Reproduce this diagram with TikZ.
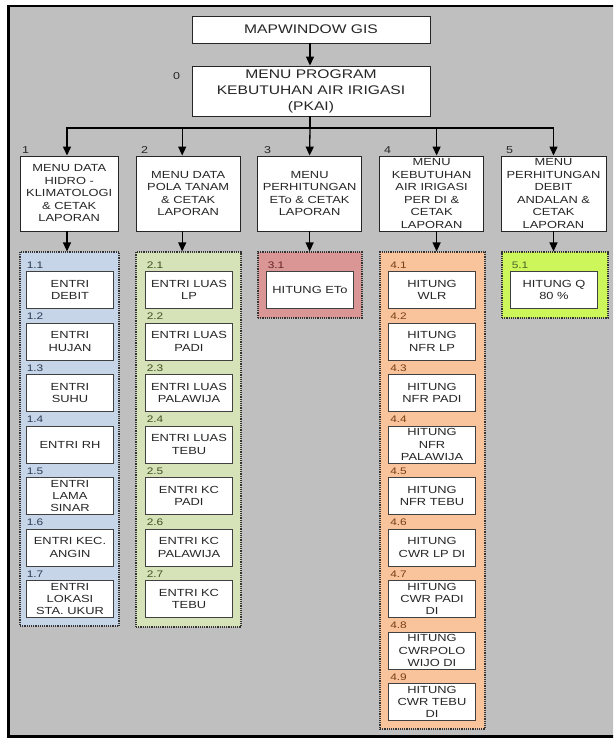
\documentclass[tikz,border=0pt]{standalone}
\usepackage{fontspec}
\setmainfont{Liberation Sans}[FakeStretch=1.25]
\usetikzlibrary{arrows.meta}
\definecolor{bggray}{HTML}{BFBFBF}
\definecolor{gblue}{HTML}{C6D6E8}
\definecolor{ggreen}{HTML}{D6E3B8}
\definecolor{gred}{HTML}{D99694}
\definecolor{gorange}{HTML}{F9C49C}
\definecolor{glime}{HTML}{CCF65A}
\definecolor{lblue}{HTML}{2B3A55}
\definecolor{lgreen}{HTML}{3F4F1F}
\definecolor{lred}{HTML}{632523}
\definecolor{lorange}{HTML}{7A3E12}
\definecolor{llime}{HTML}{4F6228}
\definecolor{txt}{HTML}{262626}
\tikzset{
  topbox/.style={draw=black!85, fill=white, line width=0.9pt, minimum width=238pt,
    inner sep=0pt, align=center, text=txt, font=\fontsize{12.5}{16}\selectfont},
  menubox/.style={draw=black!85, fill=white, line width=0.9pt, minimum height=75pt,
    inner sep=0pt, align=center, text=txt, font=\fontsize{10.3}{12.5}\selectfont},
  subbox/.style={draw=black!75, fill=white, line width=0.9pt, minimum width=87pt,
    minimum height=37pt, inner sep=0pt, align=center, text=txt,
    font=\fontsize{10.3}{12.3}\selectfont},
  group/.style={draw=black!80, line width=1.2pt, densely dotted, inner sep=0pt},
  num/.style={font=\fontsize{9.5}{10}\selectfont, inner sep=0pt, anchor=base west},
  arr/.style={-{Triangle[width=8pt,length=9pt]}, line width=1.3pt},
  conn/.style={line width=1.3pt},
}
\begin{document}
\begin{tikzpicture}[x=1pt,y=-1pt]
\useasboundingbox (0,0) rectangle (613,738);
\clip (0,0) rectangle (613,738);
\draw[fill=bggray, line width=2.5pt] (8.5,6) rectangle (630,736.5);

% top
\node[topbox, minimum height=27pt] (b00) at (311,29.5) {MAPWINDOW GIS};
\node[topbox, minimum height=50pt] (b0) at (311,91) {MENU PROGRAM\\KEBUTUHAN AIR IRIGASI\\(PKAI)};
\node[num, font=\fontsize{10}{10}\selectfont, text=txt] (n0) at (173,79.5) {0};
\draw[arr] ([xshift=-1pt]b00.south) -- ([xshift=-1pt]b0.north);

% level 1
\node[menubox, minimum width=98.5pt] (b1) at (69.25,193.5) {MENU DATA\\HIDRO -\\KLIMATOLOGI\\\& CETAK\\LAPORAN};
\node[menubox, minimum width=103.6pt] (b2) at (188.2,193.5) {MENU DATA\\POLA TANAM\\\& CETAK\\LAPORAN};
\node[menubox, minimum width=104pt] (b3) at (309.6,193.5) {MENU\\PERHITUNGAN\\ETo \& CETAK\\LAPORAN};
\node[menubox, minimum width=104pt] (b4) at (431.6,193.5) {MENU\\KEBUTUHAN\\AIR IRIGASI\\PER DI \&\\CETAK\\LAPORAN};
\node[menubox, minimum width=105pt] (b5) at (553.5,193.5) {MENU\\PERHITUNGAN\\DEBIT\\ANDALAN \&\\CETAK\\LAPORAN};
\node[num, font=\fontsize{10}{10}\selectfont, text=txt] (n1) at (22,153.5) {1};
\node[num, font=\fontsize{10}{10}\selectfont, text=txt] (n2) at (141,153.5) {2};
\node[num, font=\fontsize{10}{10}\selectfont, text=txt] (n3) at (264,153.5) {3};
\node[num, font=\fontsize{10}{10}\selectfont, text=txt] (n4) at (384,153.5) {4};
\node[num, font=\fontsize{10}{10}\selectfont, text=txt] (n5) at (506,153.5) {5};

\coordinate (bus) at (310,128);
\draw[conn] ([xshift=-1pt]b0.south) -- (bus);
\draw[arr] (bus) -| ([xshift=-2.25pt]b1.north);
\draw[arr] (bus) -| ([xshift=-6pt]b2.north);
\draw[arr] (bus) -- (b3.north);
\draw[arr] (bus) -| ([xshift=5pt]b4.north);
\draw[arr] (bus) -| (b5.north);

% groups
\node[group, fill=gblue, minimum width=99pt, minimum height=374pt] (g1) at (69.5,439) {};
\node[group, fill=ggreen, minimum width=105pt, minimum height=375pt] (g2) at (188.5,439.5) {};
\node[group, fill=gred, minimum width=104pt, minimum height=66pt] (g3) at (310,285) {};
\node[group, fill=gorange, minimum width=105pt, minimum height=477pt] (g4) at (432.5,490.5) {};
\node[group, fill=glime, minimum width=106pt, minimum height=66pt] (g5) at (555,285) {};

\draw[arr] ([xshift=-2.25pt]b1.south) -- ([xshift=-2.25pt]b1.south |- g1.north);
\draw[arr] ([xshift=-6pt]b2.south) -- ([xshift=-6pt]b2.south |- g2.north);
\draw[arr] (b3.south) -- (b3.south |- g3.north);
\draw[arr] ([xshift=5pt]b4.south) -- ([xshift=5pt]b4.south |- g4.north);
\draw[arr] (b5.south) -- (b5.south |- g5.north);

% group 1
\foreach \i/\t [count=\k from 0] in {1/{ENTRI\\DEBIT},2/{ENTRI\\HUJAN},3/{ENTRI\\SUHU},4/{ENTRI RH},5/{ENTRI\\LAMA\\SINAR},6/{ENTRI KEC.\\ANGIN},7/{ENTRI\\LOKASI\\STA. UKUR}}{
  \node[subbox] (s1\i) at (70,290+51.5*\k) {\t};
  \node[num, text=lblue] (l1\i) at ([xshift=0.5pt,yshift=3pt]s1\i.north west) {1.\i};
}
% group 2
\foreach \i/\t [count=\k from 0] in {1/{ENTRI LUAS\\LP},2/{ENTRI LUAS\\PADI},3/{ENTRI LUAS\\PALAWIJA},4/{ENTRI LUAS\\TEBU},5/{ENTRI KC\\PADI},6/{ENTRI KC\\PALAWIJA},7/{ENTRI KC\\TEBU}}{
  \node[subbox] (s2\i) at (189,290+51.5*\k) {\t};
  \node[num, text=lgreen] (l2\i) at ([xshift=1.5pt,yshift=3pt]s2\i.north west) {2.\i};
}
% group 3
\node[subbox] (s31) at (310,290) {HITUNG ETo};
\node[num, text=lred] (l31) at ([xshift=1.5pt,yshift=3pt]s31.north west) {3.1};
% group 4
\foreach \i/\t [count=\k from 0] in {1/{HITUNG\\WLR},2/{HITUNG\\NFR LP},3/{HITUNG\\NFR PADI},4/{HITUNG\\NFR\\PALAWIJA},5/{HITUNG\\NFR TEBU},6/{HITUNG\\CWR LP DI},7/{HITUNG\\CWR PADI\\DI},8/{HITUNG\\CWRPOLO\\WIJO DI},9/{HITUNG\\CWR TEBU\\DI}}{
  \node[subbox] (s4\i) at (432,290+51.5*\k) {\t};
  \node[num, text=lorange] (l4\i) at ([xshift=2pt,yshift=3pt]s4\i.north west) {4.\i};
}
% group 5
\node[subbox] (s51) at (554,290) {HITUNG Q\\80 \%};
\node[num, text=llime] (l51) at ([xshift=1.5pt,yshift=3pt]s51.north west) {5.1};
\end{tikzpicture}
\end{document}
